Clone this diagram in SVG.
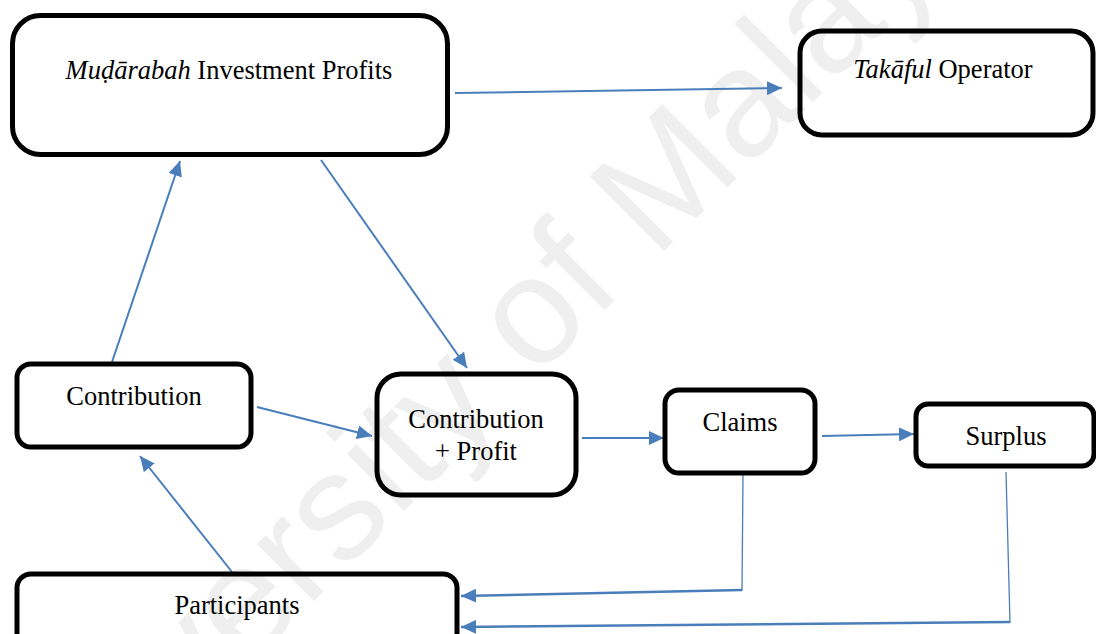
<svg xmlns="http://www.w3.org/2000/svg" width="1096" height="634" viewBox="0 0 1096 634">
  <style>
    .box { fill: none; stroke: #000; stroke-width: 5; }
    .wire { fill: none; stroke: #4a7ebb; stroke-width: 2; }
    .thin { stroke-width: 1.3; }
    .heavy { stroke-width: 2.6; }
  </style>
  <defs>
    <marker id="arrow" markerUnits="userSpaceOnUse" markerWidth="16" markerHeight="14" refX="15" refY="7" orient="auto">
      <path d="M0,0 L15,7 L0,14 z" fill="#4a7ebb"/>
    </marker>
  </defs>

  <rect width="1096" height="634" fill="#fff"/>

  <!-- background watermark -->
  <text font-family="Liberation Sans" font-size="153" fill="#efefef" transform="translate(30,885) rotate(-45)">University of Malaya</text>

  <g id="connectors">
    <line class="wire" x1="455" y1="93" x2="782" y2="88" marker-end="url(#arrow)"/>
    <line class="wire" x1="112" y1="362" x2="180" y2="161" marker-end="url(#arrow)"/>
    <line class="wire" x1="321" y1="160" x2="467" y2="368" marker-end="url(#arrow)"/>
    <line class="wire" x1="257" y1="407" x2="372" y2="436" marker-end="url(#arrow)"/>
    <line class="wire" x1="582" y1="438" x2="664" y2="438" marker-end="url(#arrow)"/>
    <line class="wire" x1="822" y1="436" x2="914" y2="434" marker-end="url(#arrow)"/>
    <line class="wire" x1="232" y1="572" x2="140" y2="456" marker-end="url(#arrow)"/>
    <line class="wire thin" x1="743" y1="475" x2="742" y2="591"/>
    <line class="wire heavy" x1="742" y1="590" x2="461" y2="596" marker-end="url(#arrow)"/>
    <line class="wire thin" x1="1006" y1="472" x2="1010" y2="623"/>
    <line class="wire heavy" x1="1010" y1="622" x2="461" y2="627" marker-end="url(#arrow)"/>
  </g>

  <g id="mudarabah">
    <rect class="box" x="12.5" y="15.5" width="435" height="139" rx="28"/>
    <text font-family="Liberation Serif" font-size="26.5" text-anchor="middle" x="229" y="79"><tspan font-style="italic">Muḍārabah</tspan> Investment Profits</text>
  </g>

  <g id="takaful">
    <rect class="box" x="800" y="31" width="293" height="104" rx="22"/>
    <text font-family="Liberation Serif" font-size="26.5" text-anchor="middle" x="943" y="78"><tspan font-style="italic">Takāful</tspan> Operator</text>
  </g>

  <g id="contribution">
    <rect class="box" x="17" y="364" width="234" height="83" rx="14"/>
    <text font-family="Liberation Serif" font-size="26.5" text-anchor="middle" x="134" y="405">Contribution</text>
  </g>

  <g id="contribution-profit">
    <rect class="box" x="377" y="374" width="199" height="121" rx="24"/>
    <text font-family="Liberation Serif" font-size="26.5" text-anchor="middle" x="476" y="428">Contribution</text>
    <text font-family="Liberation Serif" font-size="26.5" text-anchor="middle" x="476" y="460">+ Profit</text>
  </g>

  <g id="claims">
    <rect class="box" x="665" y="390" width="150" height="83" rx="14"/>
    <text font-family="Liberation Serif" font-size="26.5" text-anchor="middle" x="740" y="431">Claims</text>
  </g>

  <g id="surplus">
    <rect class="box" x="916" y="404" width="178" height="62" rx="12"/>
    <text font-family="Liberation Serif" font-size="26.5" text-anchor="middle" x="1006" y="445">Surplus</text>
  </g>

  <g id="participants">
    <rect class="box" x="17" y="574" width="440" height="80" rx="14"/>
    <text font-family="Liberation Serif" font-size="26.5" text-anchor="middle" x="237" y="614">Participants</text>
  </g>
</svg>
